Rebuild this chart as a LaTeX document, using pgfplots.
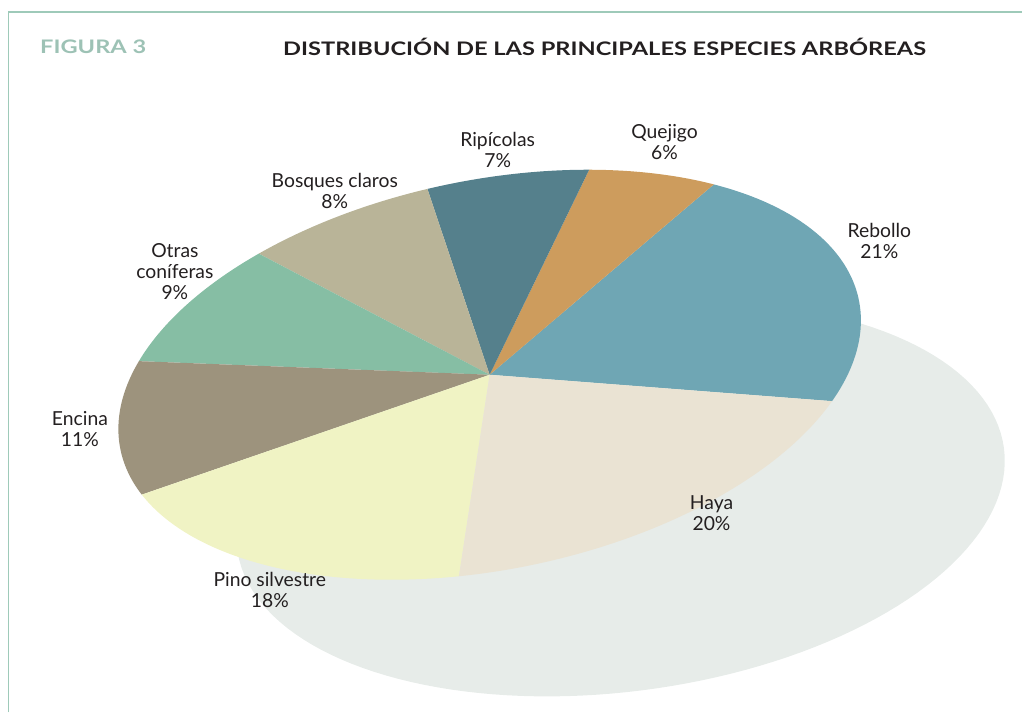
\documentclass[border=0pt]{standalone}
\usepackage{pgfplots}
\pgfplotsset{compat=1.18}
\usepackage{fontspec}
\setmainfont{Lato}
\definecolor{cReb}{HTML}{6FA6B4}
\definecolor{cHaya}{HTML}{EAE3D3}
\definecolor{cPino}{HTML}{F0F3C4}
\definecolor{cEnc}{HTML}{9D937D}
\definecolor{cOtr}{HTML}{86BEA4}
\definecolor{cBos}{HTML}{B9B498}
\definecolor{cRip}{HTML}{55808C}
\definecolor{cQue}{HTML}{CD9C5D}
\definecolor{cShadow}{HTML}{E7ECE9}
\definecolor{cFrame}{HTML}{9ECAB9}
\definecolor{cFig}{HTML}{9DC2B5}
\definecolor{cText}{HTML}{231F20}
% pie geometry (pixel units): centre, semi-axes, tilt, start angle
\def\cx{490}\def\cy{375}\def\ra{377}\def\rb{195}\def\tilt{11.4}\def\tz{-28.7}
% slice from cumulative percentage #1 to #2
\newcommand{\slice}[3]{%
  \addplot[fill=#3, draw=none, domain=#1:#2, samples=60, variable=\t]
   ({\cx + \ra*cos(\tilt)*cos(\tz+3.6*\t) - \rb*sin(\tilt)*sin(\tz+3.6*\t)},
    {\cy - \ra*sin(\tilt)*cos(\tz+3.6*\t) - \rb*cos(\tilt)*sin(\tz+3.6*\t)})
   -- (axis cs:\cx,\cy) -- cycle;}
\begin{document}
\begin{tikzpicture}
\begin{axis}[
  width=767.25pt, height=534.75pt, scale only axis,
  xmin=0, xmax=1023, ymin=0, ymax=713, y dir=reverse,
  axis lines=none, clip=false,
]
\path (axis cs:0,0) rectangle (axis cs:1023,713);
\draw[cFrame, line width=1.1pt] (axis cs:8.5,713) -- (axis cs:8.5,12) -- (axis cs:1023,12);
% shadow ellipse
\addplot[fill=cShadow, draw=none, domain=0:360, samples=160, variable=\t]
  ({621 + 387*cos(7.5)*cos(\t) - 193*sin(7.5)*sin(\t)},
   {499 - 387*sin(7.5)*cos(\t) - 193*cos(7.5)*sin(\t)}) -- cycle;
% slices: Rebollo 21, Quejigo 6, Ripicolas 7, Bosques claros 8,
% Otras coniferas 9, Encina 11, Pino silvestre 18, Haya 20
\slice{0}{21}{cReb}
\slice{21}{27}{cQue}
\slice{27}{34}{cRip}
\slice{34}{42}{cBos}
\slice{42}{51}{cOtr}
\slice{51}{62}{cEnc}
\slice{62}{80}{cPino}
\slice{80}{100}{cHaya}
% title
\node[font=\fontsize{14}{16}\selectfont\bfseries, text=cFig, anchor=west, inner sep=0pt] at (axis cs:40,47) {\scalebox{1.265}[1]{FIGURA 3}};
\node[font=\fontsize{14}{16}\selectfont\bfseries, text=cText, inner sep=0pt] at (axis cs:605,47) {\scalebox{1.265}[1]{DISTRIBUCIÓN DE LAS PRINCIPALES ESPECIES ARBÓREAS}};
% labels
\begin{scope}[every node/.style={font=\fontsize{14.5}{15.75}\selectfont, text=cText, align=center}]
\node at (axis cs:498,150) {Ripícolas\\7\%};
\node at (axis cs:665,142) {Quejigo\\6\%};
\node at (axis cs:880,241) {Rebollo\\21\%};
\node at (axis cs:335,191) {Bosques claros\\8\%};
\node at (axis cs:175,272) {Otras\\coníferas\\9\%};
\node at (axis cs:80,429) {Encina\\11\%};
\node at (axis cs:270,590) {Pino silvestre\\18\%};
\node at (axis cs:712,514) {Haya\\20\%};
\end{scope}
\end{axis}
\end{tikzpicture}
\end{document}
